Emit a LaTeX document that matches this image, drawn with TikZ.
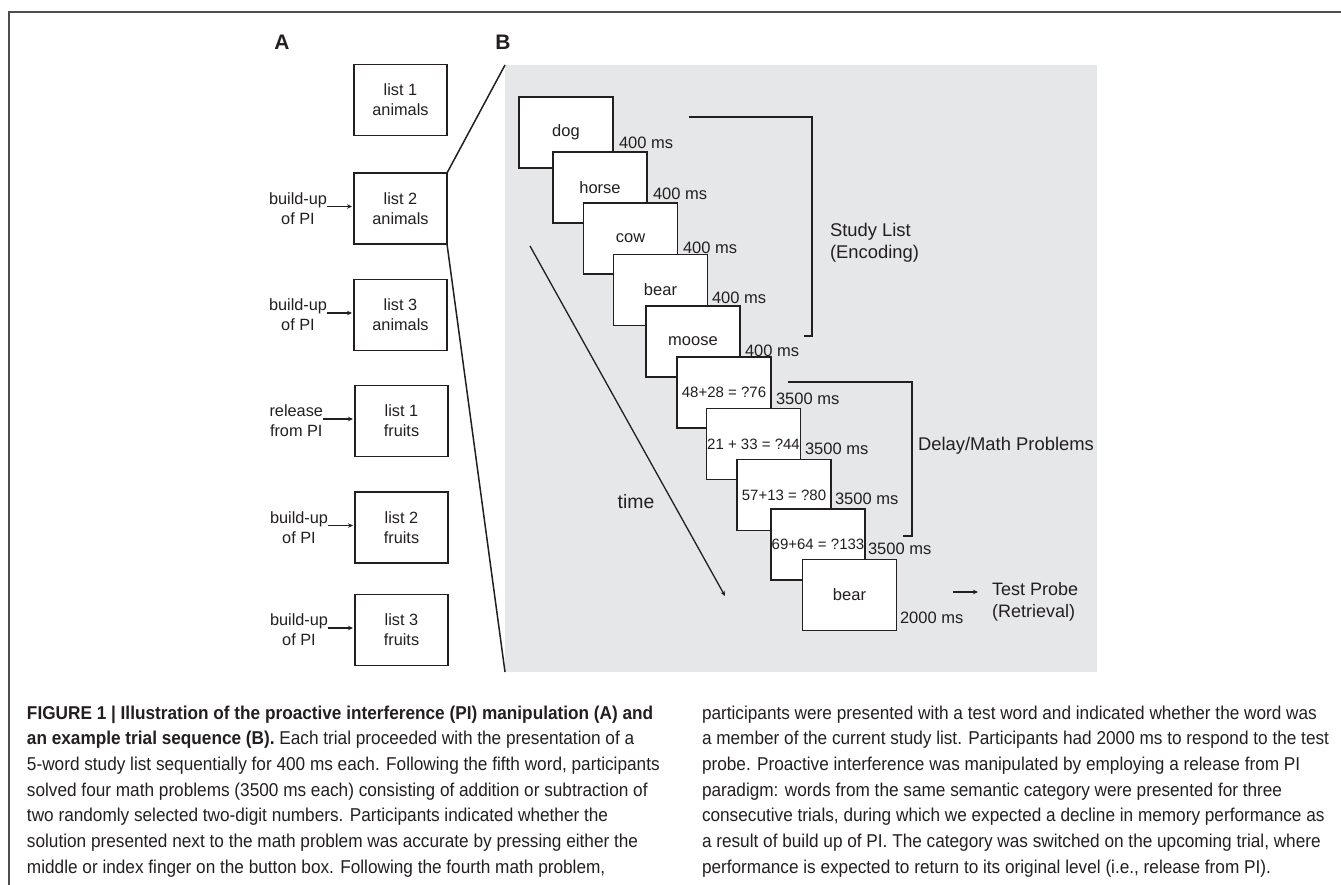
\documentclass[tikz,border=0pt]{standalone}
\usepackage{fontspec}
\setmainfont{Liberation Sans}
\newfontfamily\capfont[FakeStretch=0.925]{Liberation Sans}
\usetikzlibrary{arrows.meta}
\definecolor{ink}{HTML}{231F20}
\definecolor{panelgray}{HTML}{E6E7E8}
\definecolor{framec}{HTML}{4D4D4F}
\begin{document}
\begin{tikzpicture}[x=1pt,y=-1pt,
  every node/.style={text=ink, inner sep=0pt, outer sep=0pt},
  listbox/.style={draw=ink, line width=1.8pt, fill=white, minimum width=93pt, minimum height=71pt, align=center, font=\fontsize{16.3}{20}\selectfont},
  trialbox/.style={draw=ink, line width=1.8pt, fill=white, minimum width=94pt, minimum height=71pt, align=center, font=\fontsize{16.5}{20}\selectfont},
  mathbox/.style={trialbox, font=\fontsize{15}{18}\selectfont},
  sidelabel/.style={align=center, font=\fontsize{16.3}{20}\selectfont, anchor=east},
  timelabel/.style={anchor=west, font=\fontsize{16.5}{20}\selectfont},
  biglabel/.style={align=left, anchor=west, font=\fontsize{18.4}{22}\selectfont},
  panellabel/.style={font=\fontsize{21}{24}\selectfont\bfseries},
  capl/.style={anchor=base west, font=\capfont\fontsize{18.6}{22}\selectfont},
  arr/.style={draw=ink, line width=1.3pt, -{Stealth[length=5pt,width=4.5pt]}},
  thin/.style={draw=ink, line width=1.5pt},
  bracket/.style={draw=ink, line width=1.8pt}
]
\useasboundingbox (0,0) rectangle (1341,885);
% frame
\draw[framec, line width=1.5pt] (9,885) -- (9,12) -- (1341,12);

% panel labels
\node[panellabel] (labA) at (282,42) {A};
\node[panellabel] (labB) at (503,42) {B};

% gray panel
\node[fill=panelgray, minimum width=592pt, minimum height=607pt] (panelB) at (801,368.5) {};

% panel A boxes
\node[listbox] (a1) at (400.5,100) {list 1\\animals};
\node[listbox] (a2) at (400.5,208.5) {list 2\\animals};
\node[listbox] (a3) at (400.5,315) {list 3\\animals};
\node[listbox] (a4) at (401.5,421) {list 1\\fruits};
\node[listbox] (a5) at (401.5,527.5) {list 2\\fruits};
\node[listbox] (a6) at (401.5,630) {list 3\\fruits};

\node[sidelabel] (s2) at ([xshift=-27pt]a2.west) {build-up\\of PI};
\node[sidelabel] (s3) at ([xshift=-27pt]a3.west) {build-up\\of PI};
\node[sidelabel] (s4) at ([xshift=-32pt]a4.west) {release\\from PI};
\node[sidelabel] (s5) at ([xshift=-27pt]a5.west) {build-up\\of PI};
\node[sidelabel] (s6) at ([xshift=-27pt]a6.west) {build-up\\of PI};
\foreach \i in {2,3,4,5,6}{
  \draw[arr, line width=1.2pt, shorten >=2pt] ([yshift=2pt]s\i.east) -- ([yshift=2pt]a\i.west);
}

% zoom lines
\draw[thin] (a2.north east) -- (panelB.north west);
\draw[thin] (a2.south east) -- (panelB.south west);

% time arrow
\coordinate (t0) at (530,246);
\coordinate (t1) at (725,596);
\draw[arr] (t0) -- (t1);
\node[font=\fontsize{19.4}{22}\selectfont] (timel) at (636,502) {time};

% trial boxes
\node[trialbox] (b1) at (566,132.5) {dog};
\node[trialbox] (b2) at (600,187.5) {horse};
\node[trialbox] (b3) at (630.5,238.5) {cow};
\node[trialbox] (b4) at (660.5,290) {bear};
\node[trialbox] (b5) at (693,341.5) {moose};
\node[mathbox] (b6) at (724,392.5) {48+28 = ?76};
\node[mathbox] (b7) at (753.5,444) {21 + 33 = ?44};
\node[mathbox] (b8) at (784,495) {57+13 = ?80};
\node[mathbox] (b9) at (818,544.5) {69+64 = ?133};
\node[trialbox] (b10) at (849.5,595) {bear};

% durations
\node[timelabel] (d1) at (619,143) {400 ms};
\node[timelabel] (d2) at (653,194) {400 ms};
\node[timelabel] (d3) at (683,248) {400 ms};
\node[timelabel] (d4) at (712,298) {400 ms};
\node[timelabel] (d5) at (745,351) {400 ms};
\node[timelabel] (d6) at (776,399) {3500 ms};
\node[timelabel] (d7) at (805,449) {3500 ms};
\node[timelabel] (d8) at (835,499) {3500 ms};
\node[timelabel] (d9) at (868,549) {3500 ms};
\node[timelabel] (d10) at (900,618) {2000 ms};

% brackets
\coordinate (sb1) at (689,117);
\coordinate (sb2) at (812,117);
\coordinate (sb3) at (812,336);
\coordinate (sb4) at (804,336);
\draw[bracket] (sb1) -- (sb2) -- (sb3) -- (sb4);
\node[biglabel] (study) at (830,243) {Study List\\(Encoding)};

\coordinate (db1) at (788,382);
\coordinate (db2) at (912,382);
\coordinate (db3) at (912,536);
\coordinate (db4) at (903,536);
\draw[bracket] (db1) -- (db2) -- (db3) -- (db4);
\node[biglabel] (delay) at (918,446) {Delay/Math Problems};

\node[biglabel, font=\fontsize{18}{22}\selectfont] (probe) at (992,602) {Test Probe\\(Retrieval)};
\coordinate (tp0) at (953,592);
\coordinate (tp1) at (978,592);
\draw[arr, line width=1.2pt] (tp0) -- (tp1);

% caption left
\node[capl] (c1) at (27,719) {\bfseries FIGURE 1 | Illustration of the proactive interference (PI) manipulation (A) and};
\node[capl] (c2) at (27,744.7) {\textbf{an example trial sequence (B).} Each trial proceeded with the presentation of a};
\node[capl] (c3) at (27,770.4) {5-word study list sequentially for 400 ms each. Following the fifth word, participants};
\node[capl] (c4) at (27,796.1) {solved four math problems (3500 ms each) consisting of addition or subtraction of};
\node[capl] (c5) at (27,821.8) {two randomly selected two-digit numbers. Participants indicated whether the};
\node[capl] (c6) at (27,847.5) {solution presented next to the math problem was accurate by pressing either the};
\node[capl] (c7) at (27,873.2) {middle or index finger on the button box. Following the fourth math problem,};
% caption right
\node[capl] (r1) at (702,719) {participants were presented with a test word and indicated whether the word was};
\node[capl] (r2) at (702,744.7) {a member of the current study list. Participants had 2000 ms to respond to the test};
\node[capl] (r3) at (702,770.4) {probe. Proactive interference was manipulated by employing a release from PI};
\node[capl] (r4) at (702,796.1) {paradigm: words from the same semantic category were presented for three};
\node[capl] (r5) at (702,821.8) {consecutive trials, during which we expected a decline in memory performance as};
\node[capl] (r6) at (702,847.5) {a result of build up of PI. The category was switched on the upcoming trial, where};
\node[capl] (r7) at (702,873.2) {performance is expected to return to its original level (i.e., release from PI).};
\end{tikzpicture}
\end{document}
